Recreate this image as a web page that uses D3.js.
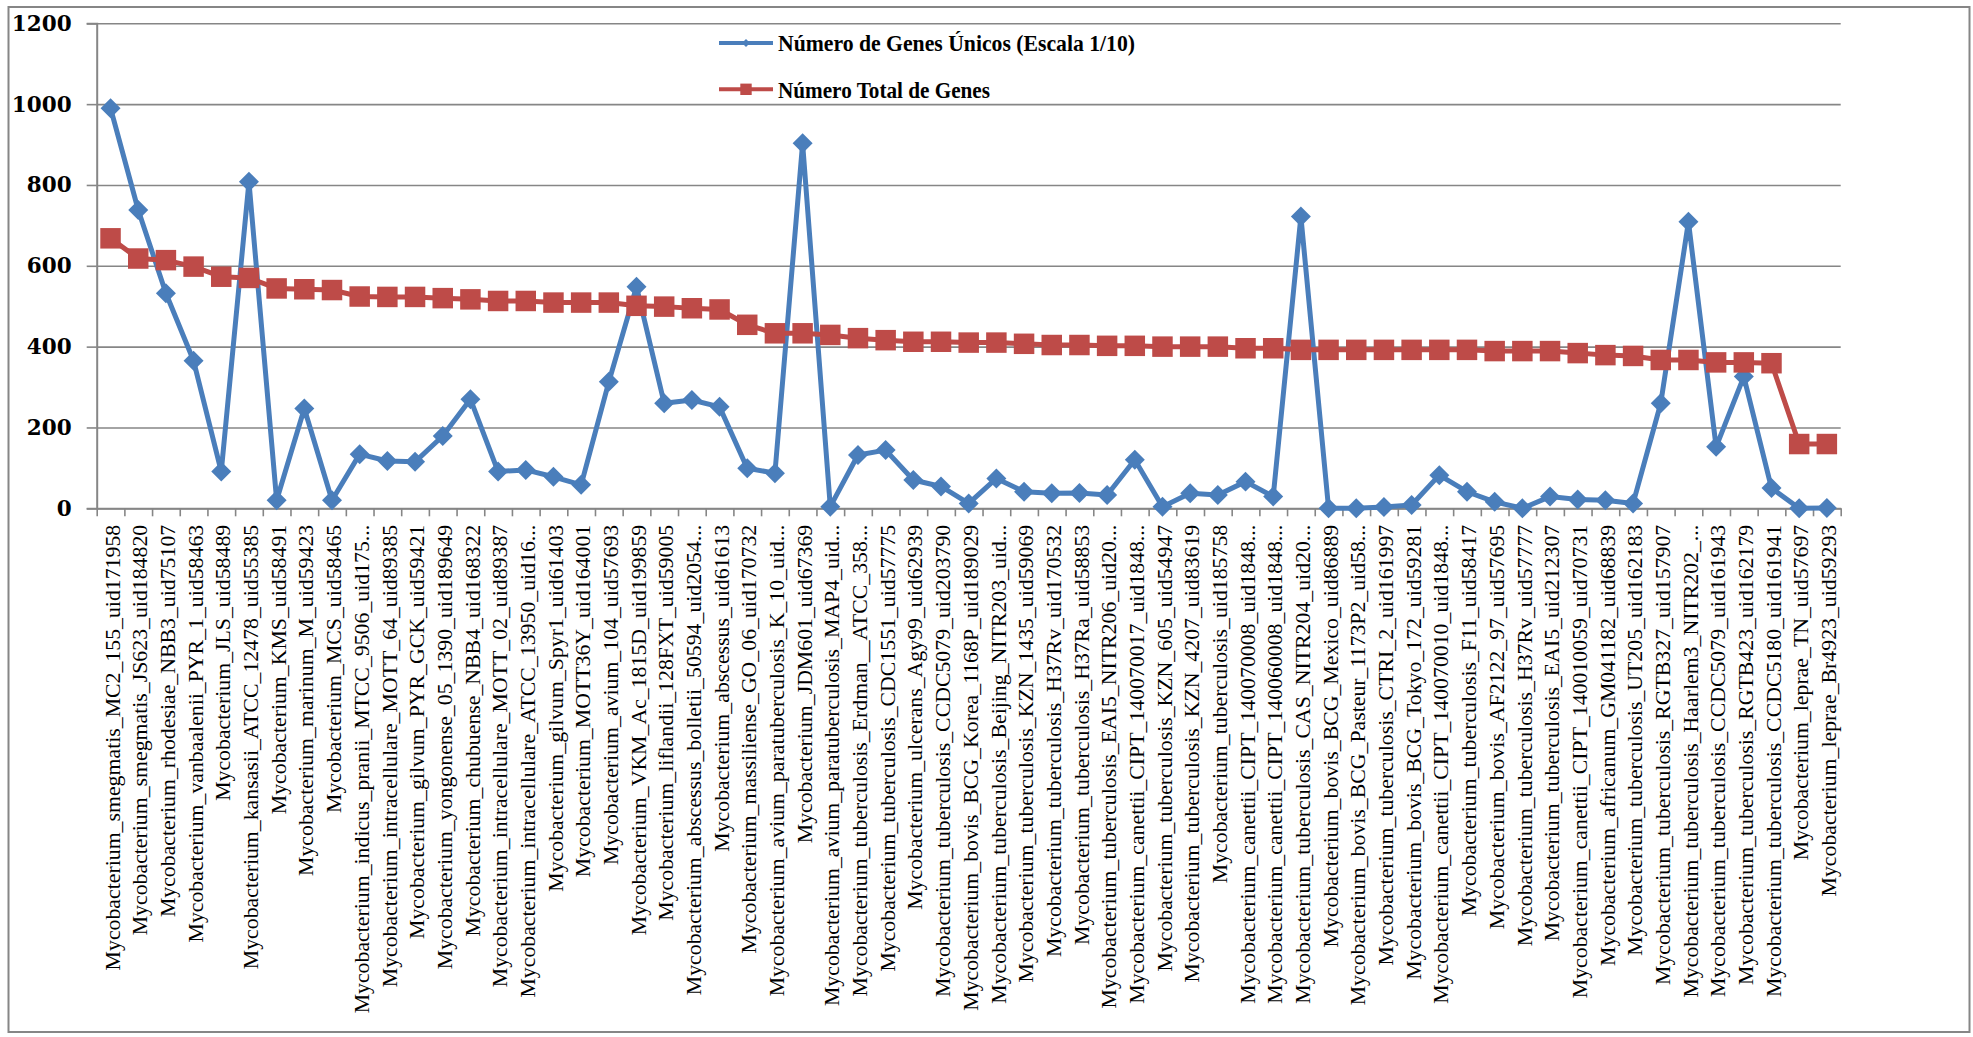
<!DOCTYPE html>
<html>
<head>
<meta charset="utf-8">
<script src="https://cdn.jsdelivr.net/npm/d3@7"></script>
<style>
  html, body { margin: 0; padding: 0; background: #ffffff; }
  svg { display: block; }
</style>
</head>
<body>
<svg id="chart" width="1973" height="1037"></svg>
<script>
// Genomes, ordered by total number of genes (descending)
const categories = [
  "Mycobacterium_smegmatis_MC2_155_uid171958",
  "Mycobacterium_smegmatis_JS623_uid184820",
  "Mycobacterium_rhodesiae_NBB3_uid75107",
  "Mycobacterium_vanbaalenii_PYR_1_uid58463",
  "Mycobacterium_JLS_uid58489",
  "Mycobacterium_kansasii_ATCC_12478_uid55385",
  "Mycobacterium_KMS_uid58491",
  "Mycobacterium_marinum_M_uid59423",
  "Mycobacterium_MCS_uid58465",
  "Mycobacterium_indicus_pranii_MTCC_9506_uid175...",
  "Mycobacterium_intracellulare_MOTT_64_uid89385",
  "Mycobacterium_gilvum_PYR_GCK_uid59421",
  "Mycobacterium_yongonense_05_1390_uid189649",
  "Mycobacterium_chubuense_NBB4_uid168322",
  "Mycobacterium_intracellulare_MOTT_02_uid89387",
  "Mycobacterium_intracellulare_ATCC_13950_uid16...",
  "Mycobacterium_gilvum_Spyr1_uid61403",
  "Mycobacterium_MOTT36Y_uid164001",
  "Mycobacterium_avium_104_uid57693",
  "Mycobacterium_VKM_Ac_1815D_uid199859",
  "Mycobacterium_liflandii_128FXT_uid59005",
  "Mycobacterium_abscessus_bolletii_50594_uid2054...",
  "Mycobacterium_abscessus_uid61613",
  "Mycobacterium_massiliense_GO_06_uid170732",
  "Mycobacterium_avium_paratuberculosis_K_10_uid...",
  "Mycobacterium_JDM601_uid67369",
  "Mycobacterium_avium_paratuberculosis_MAP4_uid...",
  "Mycobacterium_tuberculosis_Erdman__ATCC_358...",
  "Mycobacterium_tuberculosis_CDC1551_uid57775",
  "Mycobacterium_ulcerans_Agy99_uid62939",
  "Mycobacterium_tuberculosis_CCDC5079_uid203790",
  "Mycobacterium_bovis_BCG_Korea_1168P_uid189029",
  "Mycobacterium_tuberculosis_Beijing_NITR203_uid...",
  "Mycobacterium_tuberculosis_KZN_1435_uid59069",
  "Mycobacterium_tuberculosis_H37Rv_uid170532",
  "Mycobacterium_tuberculosis_H37Ra_uid58853",
  "Mycobacterium_tuberculosis_EAI5_NITR206_uid20...",
  "Mycobacterium_canettii_CIPT_140070017_uid1848...",
  "Mycobacterium_tuberculosis_KZN_605_uid54947",
  "Mycobacterium_tuberculosis_KZN_4207_uid83619",
  "Mycobacterium_tuberculosis_uid185758",
  "Mycobacterium_canettii_CIPT_140070008_uid1848...",
  "Mycobacterium_canettii_CIPT_140060008_uid1848...",
  "Mycobacterium_tuberculosis_CAS_NITR204_uid20...",
  "Mycobacterium_bovis_BCG_Mexico_uid86889",
  "Mycobacterium_bovis_BCG_Pasteur_1173P2_uid58...",
  "Mycobacterium_tuberculosis_CTRI_2_uid161997",
  "Mycobacterium_bovis_BCG_Tokyo_172_uid59281",
  "Mycobacterium_canettii_CIPT_140070010_uid1848...",
  "Mycobacterium_tuberculosis_F11_uid58417",
  "Mycobacterium_bovis_AF2122_97_uid57695",
  "Mycobacterium_tuberculosis_H37Rv_uid57777",
  "Mycobacterium_tuberculosis_EAI5_uid212307",
  "Mycobacterium_canettii_CIPT_140010059_uid70731",
  "Mycobacterium_africanum_GM041182_uid68839",
  "Mycobacterium_tuberculosis_UT205_uid162183",
  "Mycobacterium_tuberculosis_RGTB327_uid157907",
  "Mycobacterium_tuberculosis_Haarlem3_NITR202_...",
  "Mycobacterium_tuberculosis_CCDC5079_uid161943",
  "Mycobacterium_tuberculosis_RGTB423_uid162179",
  "Mycobacterium_tuberculosis_CCDC5180_uid161941",
  "Mycobacterium_leprae_TN_uid57697",
  "Mycobacterium_leprae_Br4923_uid59293"
];

// Unique genes per genome (plotted at 1/10 scale)
const uniqueGenes = [
  990, 738, 532, 365, 91, 808, 20, 247, 20, 134,
  117, 115, 179, 270, 91, 95, 78, 58, 313, 548,
  260, 268, 251, 99, 87, 903, 4, 132, 144, 70,
  54, 12, 74, 41, 37, 38, 33, 120, 4, 37,
  33, 66, 29, 722, 0, 0, 3, 8, 82, 41,
  16, 0, 29, 22, 20, 12, 260, 709, 152, 326,
  50, 0, 1
];

// Total genes per genome
const totalGenes = [
  668, 618, 614, 598, 573, 570, 544, 542, 540, 524,
  523, 523, 520, 517, 513, 513, 509, 509, 509, 501,
  499, 495, 492, 454, 433, 433, 429, 421, 416, 412,
  412, 410, 410, 407, 404, 404, 402, 402, 400, 400,
  400, 396, 396, 392, 392, 392, 392, 392, 392, 392,
  389, 389, 389, 384, 379, 377, 367, 367, 361, 361,
  359, 159, 159
];

const yTicks = [0, 200, 400, 600, 800, 1000, 1200];
const seriesNames = ["Número de Genes Únicos (Escala 1/10)", "Número Total de Genes"];
const seriesColors = ["#4A7EBB", "#BE4B48"];

const plot = { left: 96.7, right: 1840.7, top: 23.3, bottom: 508.3 };
const gridColor = "#868686";

const svg = d3.select("#chart");

// outer chart frame
svg.append("rect")
  .attr("x", 8.5).attr("y", 7)
  .attr("width", 1961).attr("height", 1025)
  .attr("fill", "none")
  .attr("stroke", gridColor)
  .attr("stroke-width", 2);

const x = d3.scaleBand()
  .domain(d3.range(categories.length))
  .range([plot.left, plot.right])
  .padding(0);
const xEdge = d3.scaleLinear()
  .domain([0, categories.length])
  .range([plot.left, plot.right]);
const y = d3.scaleLinear()
  .domain([0, 1200])
  .range([plot.bottom, plot.top]);
const cx = i => x(i) + x.bandwidth() / 2;

// horizontal gridlines
svg.append("g")
  .attr("transform", `translate(${plot.left},0)`)
  .call(d3.axisLeft(y).tickValues(yTicks).tickSize(-(plot.right - plot.left)).tickFormat(""))
  .call(g => g.select(".domain").remove())
  .call(g => g.selectAll("line").attr("stroke", gridColor).attr("stroke-width", 1.6));

// value axis
svg.append("g")
  .attr("transform", `translate(${plot.left},0)`)
  .call(d3.axisLeft(y).tickValues(yTicks).tickSize(10).tickPadding(15).tickFormat(d3.format("d")))
  .call(g => g.select(".domain").attr("stroke", gridColor).attr("stroke-width", 2))
  .call(g => g.selectAll("line").attr("stroke", gridColor).attr("stroke-width", 1.6))
  .call(g => g.selectAll("text")
    .attr("fill", "#000")
    .attr("font-family", "'DejaVu Serif', serif")
    .attr("font-weight", "bold")
    .attr("font-size", 21.5));

// category axis line with tick marks at category boundaries
svg.append("g")
  .attr("transform", `translate(0,${plot.bottom})`)
  .call(d3.axisBottom(xEdge).tickValues(d3.range(categories.length + 1)).tickSize(8).tickSizeOuter(0).tickFormat(""))
  .call(g => g.select(".domain").attr("stroke", gridColor).attr("stroke-width", 2))
  .call(g => g.selectAll("line").attr("stroke", gridColor).attr("stroke-width", 1.6));

// rotated category labels
svg.append("g")
  .attr("transform", `translate(0,${plot.bottom})`)
  .call(d3.axisBottom(x).tickSize(0).tickFormat(i => categories[i]))
  .call(g => g.select(".domain").remove())
  .call(g => g.selectAll("text")
    .attr("transform", "rotate(-90)")
    .attr("x", -16.5)
    .attr("y", 0)
    .attr("dy", "0.42em")
    .attr("text-anchor", "end")
    .attr("fill", "#000")
    .attr("font-family", "'Liberation Serif', 'Times New Roman', serif")
    .attr("font-size", 21.8));

const line = d3.line().x((d, i) => cx(i)).y(d => y(d));

// unique genes series
svg.append("path")
  .datum(uniqueGenes)
  .attr("d", line)
  .attr("fill", "none")
  .attr("stroke", seriesColors[0])
  .attr("stroke-width", 5)
  .attr("stroke-linejoin", "round");
svg.append("g").selectAll("path")
  .data(uniqueGenes)
  .join("path")
  .attr("d", d3.symbol(d3.symbolSquare, 200))
  .attr("transform", (d, i) => `translate(${cx(i)},${y(d)}) rotate(45)`)
  .attr("fill", seriesColors[0]);

// total genes series
svg.append("path")
  .datum(totalGenes)
  .attr("d", line)
  .attr("fill", "none")
  .attr("stroke", seriesColors[1])
  .attr("stroke-width", 5)
  .attr("stroke-linejoin", "round");
svg.append("g").selectAll("path")
  .data(totalGenes)
  .join("path")
  .attr("d", d3.symbol(d3.symbolSquare, 420))
  .attr("transform", (d, i) => `translate(${cx(i)},${y(d)})`)
  .attr("fill", seriesColors[1]);

// legend
const legend = svg.append("g");
const legendRows = [
  { name: seriesNames[0], color: seriesColors[0], cy: 43, marker: "diamond", width: 357 },
  { name: seriesNames[1], color: seriesColors[1], cy: 89.3, marker: "square", width: 212 }
];
legendRows.forEach(r => {
  legend.append("line")
    .attr("x1", 719).attr("x2", 773)
    .attr("y1", r.cy).attr("y2", r.cy)
    .attr("stroke", r.color).attr("stroke-width", 4);
  legend.append("path")
    .attr("d", r.marker === "diamond" ? d3.symbol(d3.symbolSquare, 32)() : d3.symbol(d3.symbolSquare, 130)())
    .attr("transform", `translate(746,${r.cy})` + (r.marker === "diamond" ? " rotate(45)" : ""))
    .attr("fill", r.color);
  legend.append("text")
    .attr("x", 778).attr("y", r.cy)
    .attr("dy", "0.35em")
    .attr("textLength", r.width)
    .attr("lengthAdjust", "spacingAndGlyphs")
    .attr("font-family", "'Liberation Serif', serif")
    .attr("font-weight", "bold")
    .attr("font-size", 24)
    .attr("fill", "#000")
    .text(r.name);
});
</script>
</body>
</html>
